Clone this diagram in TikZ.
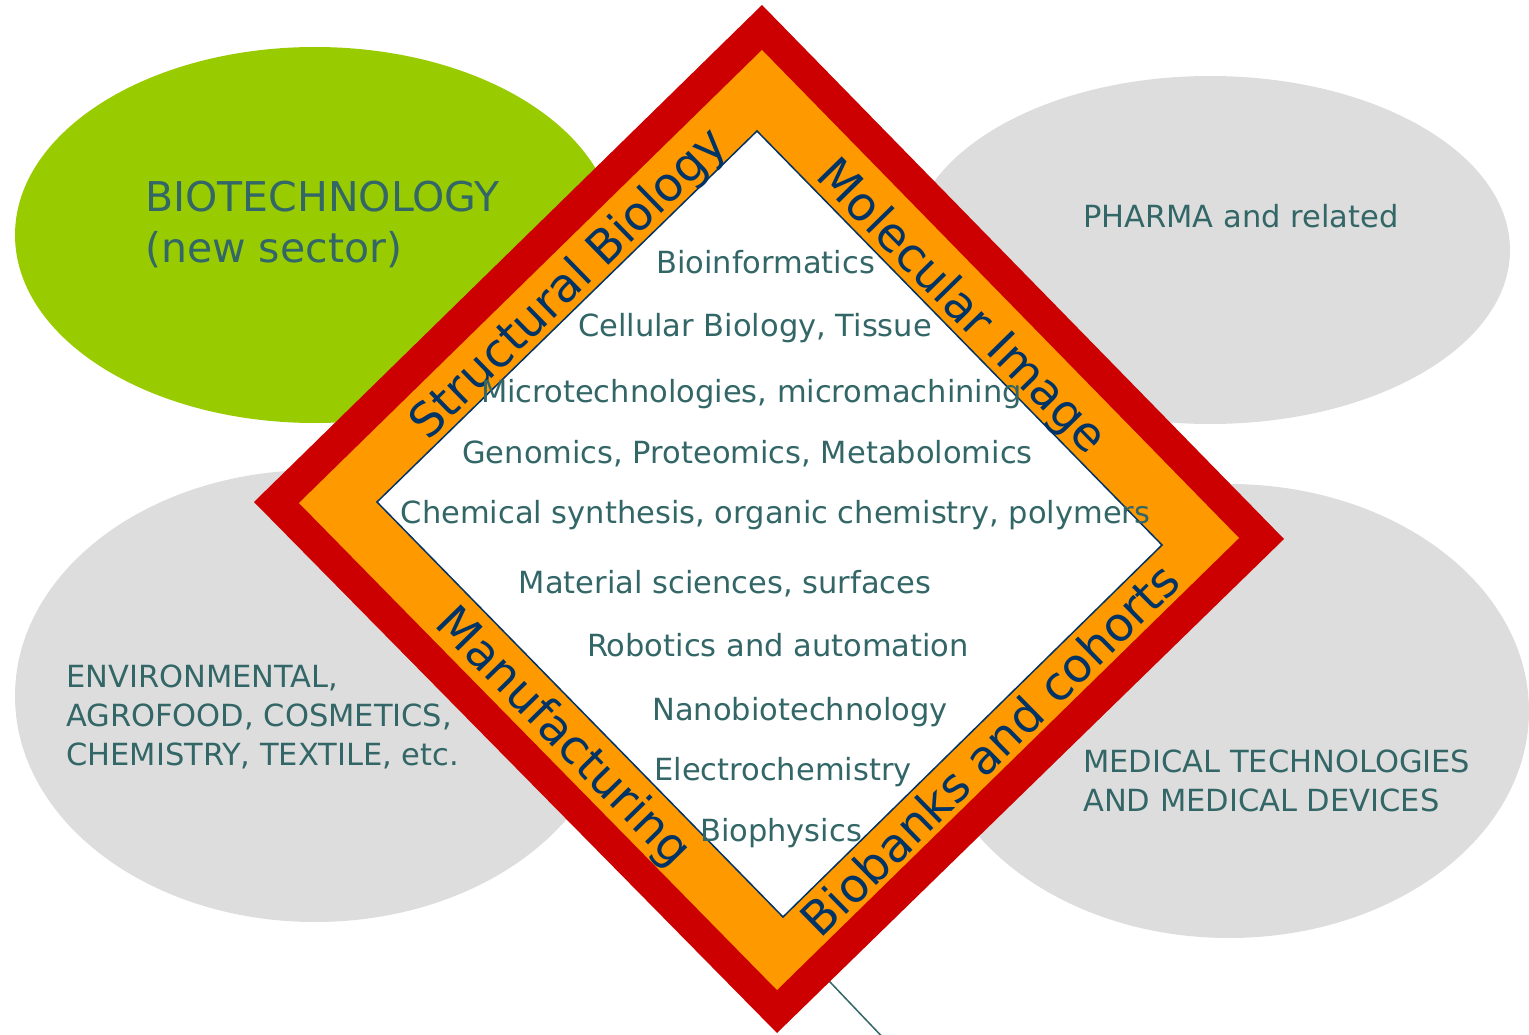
\documentclass[tikz,border=0pt]{standalone}
\usepackage{fontspec}
\setmainfont{DejaVu Sans}
\usetikzlibrary{shapes.geometric}
\definecolor{bgreen}{HTML}{99CC00}
\definecolor{bgray}{HTML}{DDDDDD}
\definecolor{bred}{HTML}{CC0000}
\definecolor{borange}{HTML}{FF9900}
\definecolor{bnavy}{HTML}{003366}
\definecolor{bteal}{HTML}{336666}
\tikzset{
  blob/.style={ellipse, inner sep=0pt, draw=none},
  sectortxt/.style={text=bteal, inner sep=0pt, anchor=base west, font=\fontsize{30.5}{36}\selectfont},
  bigtxt/.style={text=bteal, inner sep=0pt, anchor=base west, font=\fontsize{41}{48}\selectfont},
  fieldtxt/.style={text=bteal, inner sep=0pt, anchor=base, font=\fontsize{30.5}{36}\selectfont},
  bandtxt/.style={text=bnavy, inner sep=0pt, anchor=base, font=\fontsize{47}{54}\selectfont},
}
\begin{document}
\begin{tikzpicture}[x=1pt,y=-1pt]
\useasboundingbox (0,0) rectangle (1529,1035);
\clip (0,0) rectangle (1529,1035);
% ellipses
\node[blob, fill=bgreen, minimum width=600pt, minimum height=376pt] (biotech) at (315,235) {};
\node[blob, fill=bgray, minimum width=600pt, minimum height=348pt] (pharma) at (1210,250) {};
\node[blob, fill=bgray, minimum width=600pt, minimum height=452pt] (env) at (315,696) {};
\node[blob, fill=bgray, minimum width=600pt, minimum height=454pt] (med) at (1229,711) {};
% connector line behind diamond
\coordinate (lstart) at (790,940);
\coordinate (lend) at (890,1045);
\draw[bteal, line width=1.5pt] (lstart) -- (lend);
% diamond
\fill[bred] (762,5) -- (1284,539) -- (777,1033) -- (254,502) -- cycle;
\fill[borange] (762,50) -- (1239,538) -- (777,990) -- (299,503) -- cycle;
\filldraw[fill=white, draw=bnavy, line width=1.5pt] (757,131) -- (1162,545) -- (783,917) -- (377,502) -- cycle;
% band labels
\node[bandtxt, rotate=44.3] (sb) at (579,294) {Structural Biology};
\node[bandtxt, rotate=-45.6] (mi) at (951,317) {Molecular Image};
\node[bandtxt, rotate=-45.6] (mf) at (553,747) {Manufacturing};
\node[bandtxt, rotate=44.5] (bc) at (1002,762) {Biobanks and cohorts};
% sector texts
\node[bigtxt] (bt1) at (145,212) {BIOTECHNOLOGY};
\node[bigtxt] (bt2) at (145,262) {(new sector)};
\node[sectortxt] (ph) at (1083,228) {PHARMA and related};
\node[sectortxt] (en1) at (66,687) {ENVIRONMENTAL,};
\node[sectortxt] (en2) at (66,726) {AGROFOOD, COSMETICS,};
\node[sectortxt] (en3) at (66,765) {CHEMISTRY, TEXTILE, etc.};
\node[sectortxt] (md1) at (1083,772) {MEDICAL TECHNOLOGIES};
\node[sectortxt] (md2) at (1083,811) {AND MEDICAL DEVICES};
% fields
\node[fieldtxt] (f1) at (765.5,273) {Bioinformatics};
\node[fieldtxt] (f2) at (755,336) {Cellular Biology, Tissue};
\node[fieldtxt] (f3) at (751.5,402) {Microtechnologies, micromachining};
\node[fieldtxt] (f4) at (747.5,463) {Genomics, Proteomics, Metabolomics};
\node[fieldtxt] (f5) at (775.5,523) {Chemical synthesis, organic chemistry, polymers};
\node[fieldtxt] (f6) at (725,593) {Material sciences, surfaces};
\node[fieldtxt] (f7) at (778,656) {Robotics and automation};
\node[fieldtxt] (f8) at (800,720) {Nanobiotechnology};
\node[fieldtxt] (f9) at (783,780) {Electrochemistry};
\node[fieldtxt] (f10) at (781,841) {Biophysics};
\end{tikzpicture}
\end{document}
